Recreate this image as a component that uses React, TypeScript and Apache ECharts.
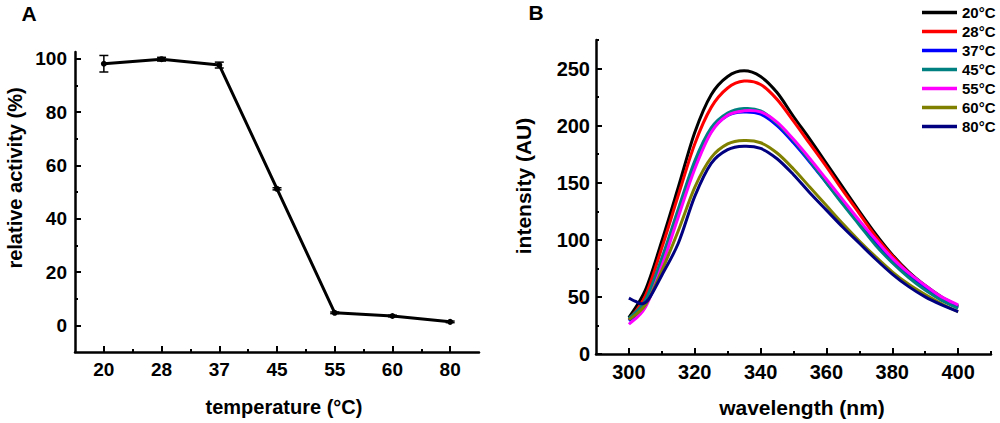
import React, { useEffect, useRef } from "react";
import * as echarts from "echarts";

// ---------- Panel A data ----------
const temps = ["20", "28", "37", "45", "55", "60", "80"];
const activity = [98.1, 99.8, 97.6, 51.2, 4.7, 3.5, 1.3];
const activityErr = [3.1, 0.7, 1.1, 0.4, 0.3, 0.3, 0.3];
const aYMajor = [0, 20, 40, 60, 80, 100];
const aYMinor = [10, 30, 50, 70, 90];

// ---------- Panel B data ----------
const wl = [300, 305, 310, 315, 320, 325, 330, 335, 340, 345, 350, 355, 360, 365, 370, 375, 380, 385, 390, 395, 400];
const i20 = [32, 56, 99, 146, 194, 227, 243, 248, 243, 229, 208, 188, 167, 146, 125, 105, 87, 72, 60, 50, 42];
const i28 = [30, 51, 93, 139, 184, 216, 233, 239, 236, 223, 204, 184, 164, 143, 123, 103, 86, 71, 59, 49, 41];
const i37 = [29, 44, 80, 123, 164, 195, 209, 212, 210, 200, 185, 168, 150, 132, 114, 97, 82, 69, 58, 48, 41];
const i45 = [31, 47, 84, 127, 169, 198, 211, 215, 213, 202, 187, 169, 150, 131, 113, 95, 80, 67, 56, 47, 40];
const i55 = [26, 41, 77, 120, 162, 194, 209, 213, 212, 203, 188, 171, 153, 135, 117, 100, 84, 71, 60, 50, 43];
const i60 = [30, 43, 73, 108, 146, 172, 184, 187, 185, 176, 162, 146, 130, 114, 99, 85, 72, 61, 52, 44, 37];
const wl80 = [300, 302, 304, 306, 310, 315, 320, 325, 330, 335, 340, 345, 350, 355, 360, 365, 370, 375, 380, 385, 390, 395, 400];
const i80 = [49, 46, 44, 48, 69, 97, 138, 167, 179, 182, 180, 171, 157, 141, 126, 111, 97, 83, 70, 59, 50, 43, 37];
const bNames = ["20°C", "28°C", "37°C", "45°C", "55°C", "60°C", "80°C"];
const bColors = ["#000000", "#ff0000", "#0000ff", "#008080", "#ff00ff", "#808000", "#000080"];
const bXMajor = [300, 320, 340, 360, 380, 400];
const bXMinor = [310, 330, 350, 370, 390, 410];
const bYMajor = [0, 50, 100, 150, 200, 250];
const bYMinor = [25, 75, 125, 175, 225, 275];

const FONT = "'Liberation Sans', Arial, Helvetica, sans-serif";

function majorAxis(gridIndex: number, min: number, max: number, values: number[], opts: any = {}) {
  return {
    type: "value",
    gridIndex,
    min,
    max,
    position: opts.position,
    axisLine: { show: true, onZero: false, lineStyle: { color: "#000", width: 2.5 } },
    axisTick: { show: true, inside: true, length: 6, lineStyle: { color: "#000", width: 2 }, customValues: values },
    axisLabel: {
      show: true,
      customValues: values,
      formatter: opts.formatter,
      margin: opts.margin ?? 8,
      color: "#000",
      fontFamily: FONT,
      fontWeight: "bold",
      fontSize: opts.fontSize ?? 19,
    },
    splitLine: { show: false },
  };
}

function minorAxis(gridIndex: number, min: number, max: number, values: number[], position: string) {
  return {
    type: "value",
    gridIndex,
    min,
    max,
    position,
    offset: 0,
    axisLine: { show: false, onZero: false },
    axisTick: { show: true, inside: true, length: 3, lineStyle: { color: "#000", width: 2 }, customValues: values },
    axisLabel: { show: false },
    splitLine: { show: false },
  };
}

function txt(text: string, x: number, y: number, size: number, rotation = 0) {
  return {
    type: "text",
    x,
    y,
    rotation,
    style: {
      text,
      fill: "#000",
      fontFamily: FONT,
      fontWeight: "bold",
      fontSize: size,
      align: "center",
      verticalAlign: "middle",
    },
  };
}

// Catmull-Rom spline through screen points -> SVG path data
function splinePath(pts: number[][]) {
  let d = `M${pts[0][0]},${pts[0][1]}`;
  for (let i = 0; i < pts.length - 1; i++) {
    const p0 = pts[i - 1] || pts[i];
    const p1 = pts[i];
    const p2 = pts[i + 1];
    const p3 = pts[i + 2] || p2;
    const c1x = p1[0] + (p2[0] - p0[0]) / 6;
    const c1y = p1[1] + (p2[1] - p0[1]) / 6;
    const c2x = p2[0] - (p3[0] - p1[0]) / 6;
    const c2y = p2[1] - (p3[1] - p1[1]) / 6;
    d += ` C${c1x},${c1y} ${c2x},${c2y} ${p2[0]},${p2[1]}`;
  }
  return d;
}

export default function App() {
  const ref = useRef<HTMLDivElement>(null);
  useEffect(() => {
    if (!ref.current) return;
    const chart = echarts.init(ref.current, null, { renderer: "svg" });
    const catIdx = temps.map((_, i) => i + 1);
    const halfIdx = temps.slice(1).map((_, i) => i + 1.5);
    const bSeriesData = [i20, i28, i37, i45, i55, i60].map((arr) => arr.map((v, i) => [wl[i], v]));
    bSeriesData.push(i80.map((v, i) => [wl80[i], v]));

    const option: any = {
      animation: false,
      grid: [
        { left: 75, top: 52, width: 404, height: 300 },
        { left: 596, top: 40, width: 395, height: 314 },
      ],
      xAxis: [
        majorAxis(0, 0.5, 7.5, catIdx, { position: "bottom", formatter: (v: number) => temps[Math.round(v) - 1] ?? "" }),
        minorAxis(0, 0.5, 7.5, halfIdx, "bottom"),
        majorAxis(1, 290, 410, bXMajor, { position: "bottom", fontSize: 20 }),
        minorAxis(1, 290, 410, bXMinor, "bottom"),
      ],
      yAxis: [
        majorAxis(0, -10, 102.5, aYMajor, { position: "left" }),
        minorAxis(0, -10, 102.5, aYMinor, "left"),
        majorAxis(1, 0, 275, bYMajor, { position: "left", fontSize: 20, margin: 6 }),
        minorAxis(1, 0, 275, bYMinor, "left"),
      ],
      legend: {
        orient: "vertical",
        left: 922,
        top: 3,
        padding: 0,
        icon: "rect",
        itemWidth: 35,
        itemHeight: 3.5,
        itemGap: 0,
        data: bNames,
        textStyle: { color: "#000", fontFamily: FONT, fontWeight: "bold", fontSize: 15, lineHeight: 19 },
      },
      series: [
        {
          type: "line",
          xAxisIndex: 0,
          yAxisIndex: 0,
          data: activity.map((v, i) => [i + 1, v]),
          symbol: "circle",
          symbolSize: 6,
          lineStyle: { color: "#000", width: 3 },
          itemStyle: { color: "#000" },
          z: 3,
        },
        {
          type: "custom",
          xAxisIndex: 0,
          yAxisIndex: 0,
          encode: { x: 0, y: [1, 2] },
          data: activity.map((v, i) => [i + 1, v - activityErr[i], v + activityErr[i]]),
          renderItem: (params: any, api: any) => {
            const x = api.value(0);
            const lo = api.coord([x, api.value(1)]);
            const hi = api.coord([x, api.value(2)]);
            const w = 4.5;
            const st = { stroke: "#000", lineWidth: 1.5 };
            return {
              type: "group",
              children: [
                { type: "line", shape: { x1: lo[0], y1: lo[1], x2: hi[0], y2: hi[1] }, style: st },
                { type: "line", shape: { x1: lo[0] - w, y1: lo[1], x2: lo[0] + w, y2: lo[1] }, style: st },
                { type: "line", shape: { x1: hi[0] - w, y1: hi[1], x2: hi[0] + w, y2: hi[1] }, style: st },
              ],
            };
          },
          z: 4,
        },
        ...bNames.map((name, k) => ({
          type: "custom",
          name,
          xAxisIndex: 2,
          yAxisIndex: 2,
          encode: { x: 0, y: 1 },
          data: bSeriesData[k],
          itemStyle: { color: bColors[k] },
          z: 2,
          renderItem: (params: any, api: any) => {
            if (params.dataIndexInside !== 0) return null;
            const pts = bSeriesData[k].map((p) => api.coord(p));
            return {
              type: "path",
              shape: { pathData: splinePath(pts) },
              style: { stroke: bColors[k], lineWidth: 3, fill: "none", lineJoin: "round" },
            };
          },
        })),
      ],
      graphic: [
        txt("A", 29, 13, 21),
        txt("B", 536, 12, 21),
        txt("temperature (°C)", 284, 407, 20),
        txt("relative activity (%)", 15, 178, 20, Math.PI / 2),
        txt("wavelength (nm)", 802, 407, 21),
        txt("intensity (AU)", 523, 186, 21, Math.PI / 2),
      ],
    };
    chart.setOption(option);
    return () => chart.dispose();
  }, []);
  return <div ref={ref} style={{ position: "fixed", left: 0, top: 0, width: 1000, height: 423, background: "#fff" }} />;
}
